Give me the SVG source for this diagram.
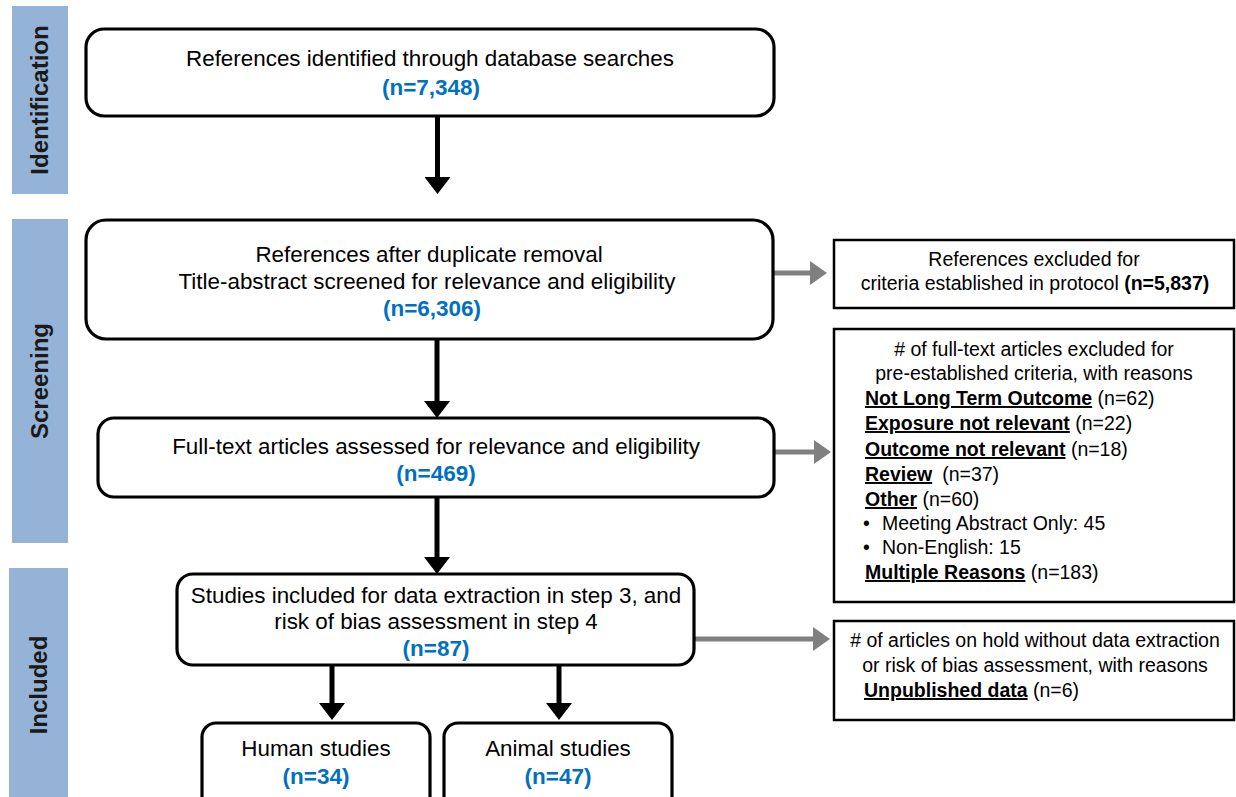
<svg xmlns="http://www.w3.org/2000/svg" width="1236" height="797" viewBox="0 0 1236 797">
<style>
.band{fill:#95b3d7}
.bt{font-family:"Liberation Sans",Arial,sans-serif;font-weight:bold;font-size:24px;fill:#1a1a1a;text-anchor:middle}
.rb{fill:#fff;stroke:#000;stroke-width:3.2}
.sb{fill:#fff;stroke:#000;stroke-width:2.5}
.t{font-family:"Liberation Sans",Arial,sans-serif;font-size:22.4px;fill:#000;text-anchor:middle}
.n{font-family:"Liberation Sans",Arial,sans-serif;font-size:22.5px;font-weight:bold;fill:#0070c0;text-anchor:middle}
.s{font-family:"Liberation Sans",Arial,sans-serif;font-size:19.5px;fill:#000}
.c{text-anchor:middle}
.b{font-weight:bold}
.u{font-weight:bold;text-decoration:underline}
.bl{stroke:#000;stroke-width:5;fill:none}
.gl{stroke:#808080;stroke-width:5;fill:none}
</style>
<defs>
<marker id="ab" markerUnits="userSpaceOnUse" markerWidth="17" markerHeight="26" viewBox="0 0 17 26" refX="0" refY="13" orient="auto"><path d="M0,0 L17,13 L0,26 z" fill="#000"/></marker>
<marker id="ag" markerUnits="userSpaceOnUse" markerWidth="17" markerHeight="24" viewBox="0 0 17 24" refX="0" refY="12" orient="auto"><path d="M0,0 L17,12 L0,24 z" fill="#808080"/></marker>
</defs>
<rect width="1236" height="797" fill="#fff"/>
<g id="band-identification"><rect class="band" x="12" y="6" width="56" height="188"/><text class="bt" transform="translate(48,100) rotate(-90)">Identification</text></g>
<g id="band-screening"><rect class="band" x="12" y="219" width="56" height="324"/><text class="bt" transform="translate(48,381) rotate(-90)">Screening</text></g>
<g id="band-included"><rect class="band" x="9" y="568" width="59" height="235"/><text class="bt" transform="translate(47,685) rotate(-90)">Included</text></g>
<g id="connectors">
<line class="bl" x1="437.5" y1="116" x2="437.5" y2="177" marker-end="url(#ab)"/>
<line class="bl" x1="437" y1="339" x2="437" y2="401" marker-end="url(#ab)"/>
<line class="bl" x1="437" y1="497" x2="437" y2="557" marker-end="url(#ab)"/>
<line class="bl" x1="332" y1="665" x2="332" y2="703" marker-end="url(#ab)"/>
<line class="bl" x1="559" y1="665" x2="559" y2="703" marker-end="url(#ab)"/>
<line class="gl" x1="774" y1="273" x2="810" y2="273" marker-end="url(#ag)"/>
<line class="gl" x1="775" y1="452" x2="814" y2="452" marker-end="url(#ag)"/>
<line class="gl" x1="695" y1="639" x2="813" y2="639" marker-end="url(#ag)"/>
</g>
<g id="node-identified"><rect class="rb" x="86" y="29" width="688" height="87" rx="18"/><text class="t" x="430" y="66">References identified through database searches</text><text class="n" x="431" y="95">(n=7,348)</text></g>
<g id="node-screened"><rect class="rb" x="86" y="220" width="687" height="119" rx="20"/><text class="t" x="429" y="262">References after duplicate removal</text><text class="t" x="427" y="289">Title-abstract screened for relevance and eligibility</text><text class="n" x="432" y="316">(n=6,306)</text></g>
<g id="node-fulltext"><rect class="rb" x="98" y="418" width="676" height="79" rx="16"/><text class="t" x="436" y="454">Full-text articles assessed for relevance and eligibility</text><text class="n" x="436" y="481">(n=469)</text></g>
<g id="node-included"><rect class="rb" x="177" y="574" width="517" height="91" rx="16"/><text class="t" x="436" y="603">Studies included for data extraction in step 3, and</text><text class="t" x="436" y="629">risk of bias assessment in step 4</text><text class="n" x="436" y="656">(n=87)</text></g>
<g id="node-human"><rect class="rb" x="202" y="723" width="228" height="90" rx="14"/><text class="t" x="316" y="756">Human studies</text><text class="n" x="316" y="784">(n=34)</text></g>
<g id="node-animal"><rect class="rb" x="444" y="723" width="228" height="90" rx="14"/><text class="t" x="558" y="756">Animal studies</text><text class="n" x="558" y="784">(n=47)</text></g>
<g id="node-excluded-refs"><rect class="sb" x="834" y="240" width="400" height="68"/><text class="s c" x="1034" y="266">References excluded for</text><text class="s c" x="1035" y="290">criteria established in protocol <tspan class="b">(n=5,837)</tspan></text></g>
<g id="node-excluded-fulltext"><rect class="sb" x="834" y="329" width="400" height="273"/>
<text class="s c" x="1034" y="356"># of full-text articles excluded for</text>
<text class="s c" x="1034" y="380">pre-established criteria, with reasons</text>
<text class="s" x="865" y="405"><tspan class="u">Not Long Term Outcome</tspan> (n=62)</text>
<text class="s" x="865" y="430"><tspan class="u">Exposure not relevant</tspan> (n=22)</text>
<text class="s" x="865" y="456"><tspan class="u">Outcome not relevant</tspan> (n=18)</text>
<text class="s" x="865" y="481"><tspan class="u">Review</tspan><tspan dx="10">(n=37)</tspan></text>
<text class="s" x="865" y="506"><tspan class="u">Other</tspan> (n=60)</text>
<text class="s" x="863" y="530">•</text><text class="s" x="882" y="530">Meeting Abstract Only: 45</text>
<text class="s" x="863" y="554">•</text><text class="s" x="882" y="554">Non-English: 15</text>
<text class="s" x="865" y="579"><tspan class="u">Multiple Reasons</tspan> (n=183)</text>
</g>
<g id="node-on-hold"><rect class="sb" x="834" y="621" width="400" height="99"/><text class="s c" x="1035" y="647"># of articles on hold without data extraction</text><text class="s c" x="1035" y="672">or risk of bias assessment, with reasons</text><text class="s" x="864" y="697"><tspan class="u">Unpublished data</tspan> (n=6)</text></g>
</svg>
